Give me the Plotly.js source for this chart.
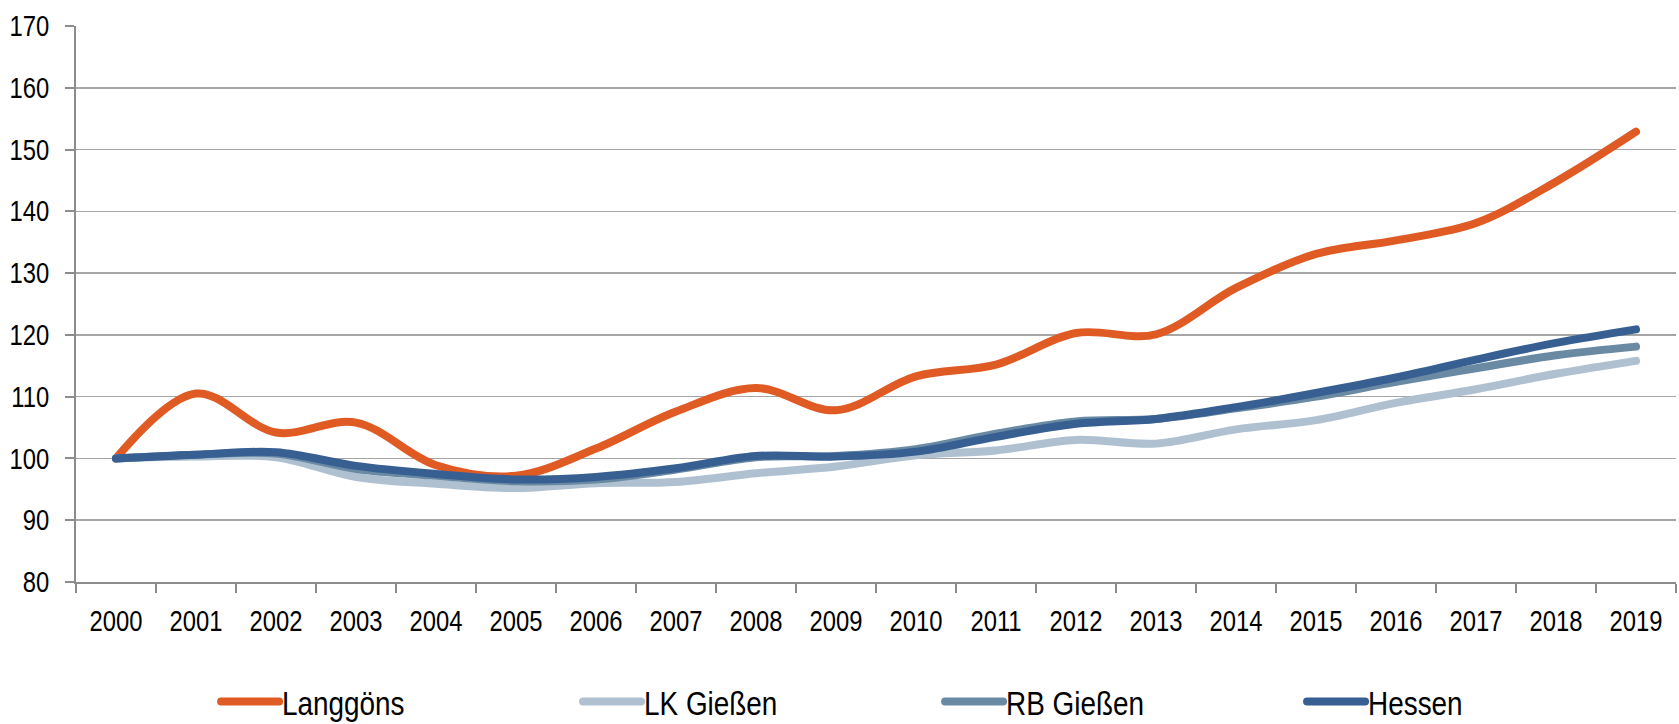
<!DOCTYPE html>
<html>
<head>
<meta charset="utf-8">
<script src="https://cdn.plot.ly/plotly-3.0.1.min.js"></script>
<style>
html, body { margin: 0; padding: 0; background: #fff; }
#chart { width: 1679px; height: 724px; }
.js-line { stroke-linecap: round !important; stroke-linejoin: round !important; }
.legendlines path { stroke-linecap: round !important; }
</style>
</head>
<body>
<div id="chart"></div>
<script>
const years = ["2000","2001","2002","2003","2004","2005","2006","2007","2008","2009",
               "2010","2011","2012","2013","2014","2015","2016","2017","2018","2019"];
const langgoens = [100, 110.5, 104.2, 105.8, 98.9, 97.2, 101.6, 107.6, 111.4, 107.8,
                   113.3, 115.2, 120.3, 120.1, 127.6, 133.1, 135.3, 138.1, 144.8, 152.9];
const lkGiessen = [100, 100.3, 100.2, 97.0, 95.9, 95.2, 96.0, 96.2, 97.6, 98.7,
                   100.5, 101.3, 103.0, 102.4, 104.7, 106.2, 109.0, 111.2, 113.7, 115.8];
const rbGiessen = [100, 100.6, 100.8, 98.3, 97.2, 96.3, 96.6, 98.2, 100.2, 100.4,
                   101.5, 104.0, 106.0, 106.4, 108.1, 110.0, 112.4, 114.6, 116.7, 118.1];
const hessen    = [100, 100.6, 101.0, 98.8, 97.5, 96.6, 97.0, 98.4, 100.4, 100.3,
                   101.1, 103.5, 105.6, 106.4, 108.3, 110.6, 113.1, 116.0, 118.7, 120.9];
const seriesNames = ["Langgöns", "LK Gießen", "RB Gießen", "Hessen"];
const seriesColors = ["#E05A24", "#AFC1D0", "#6A8AA4", "#375F92"];
const yTicks = [80, 90, 100, 110, 120, 130, 140, 150, 160, 170];

const FONT = "'Liberation Sans', Arial, sans-serif";

const values = [langgoens, lkGiessen, rbGiessen, hessen];
const traces = values.map((v, i) => ({
  type: "scatter",
  mode: "lines",
  x: years,
  y: v,
  name: seriesNames[i],
  line: { color: seriesColors[i], width: 8, shape: "spline", smoothing: 1 },
  hoverinfo: "x+y+name"
}));

const layout = {
  width: 1679,
  height: 724,
  margin: { l: 76, r: 3, t: 26, b: 142, autoexpand: false },
  paper_bgcolor: "#ffffff",
  plot_bgcolor: "#ffffff",
  font: { family: FONT, size: 29, color: "#000000" },
  showlegend: true,
  legend: {
    orientation: "h",
    x: 0.1038,
    xanchor: "left",
    y: -0.2158,
    yanchor: "middle",
    entrywidth: 317,
    entrywidthmode: "pixels",
    font: { family: FONT, size: 34, color: "#000000" },
    bgcolor: "rgba(0,0,0,0)",
    traceorder: "normal"
  },
  xaxis: {
    type: "category",
    range: [-0.5, 19.5],
    showgrid: false,
    zeroline: false,
    showline: true,
    linecolor: "#8c8c8c",
    linewidth: 2,
    ticks: "outside",
    tickson: "boundaries",
    ticklen: 9,
    tickwidth: 2,
    tickcolor: "#8c8c8c",
    ticklabelstandoff: 12,
    tickfont: { family: FONT, size: 29, color: "#000000" },
    fixedrange: true
  },
  yaxis: {
    range: [80, 170],
    tickvals: yTicks,
    showgrid: true,
    gridcolor: "#a6a6a6",
    gridwidth: 1.5,
    zeroline: false,
    showline: true,
    linecolor: "#8c8c8c",
    linewidth: 2,
    ticks: "outside",
    ticklen: 9,
    tickwidth: 2,
    tickcolor: "#8c8c8c",
    ticklabelstandoff: 10,
    tickfont: { family: FONT, size: 29, color: "#000000" },
    fixedrange: true
  }
};

// Emulate the narrow typeface of the original by condensing the glyphs horizontally,
// and lengthen the legend line samples to match the original legend keys.
function finishStyling() {
  document.querySelectorAll("#chart .xtick text, #chart .ytick text, #chart .legendtext").forEach(t => {
    const w = t.getComputedTextLength();
    if (w > 0) {
      t.setAttribute("textLength", (w * 0.82).toFixed(2));
      t.setAttribute("lengthAdjust", "spacingAndGlyphs");
    }
  });
  document.querySelectorAll("#chart .legendlines path").forEach(p => {
    p.setAttribute("d", "M-21,0h58");
  });
  document.querySelectorAll("#chart g.legend [clip-path]").forEach(e => {
    e.removeAttribute("clip-path");
  });
}

Plotly.newPlot("chart", traces, layout, { displayModeBar: false, staticPlot: true }).then(finishStyling);
</script>
</body>
</html>
